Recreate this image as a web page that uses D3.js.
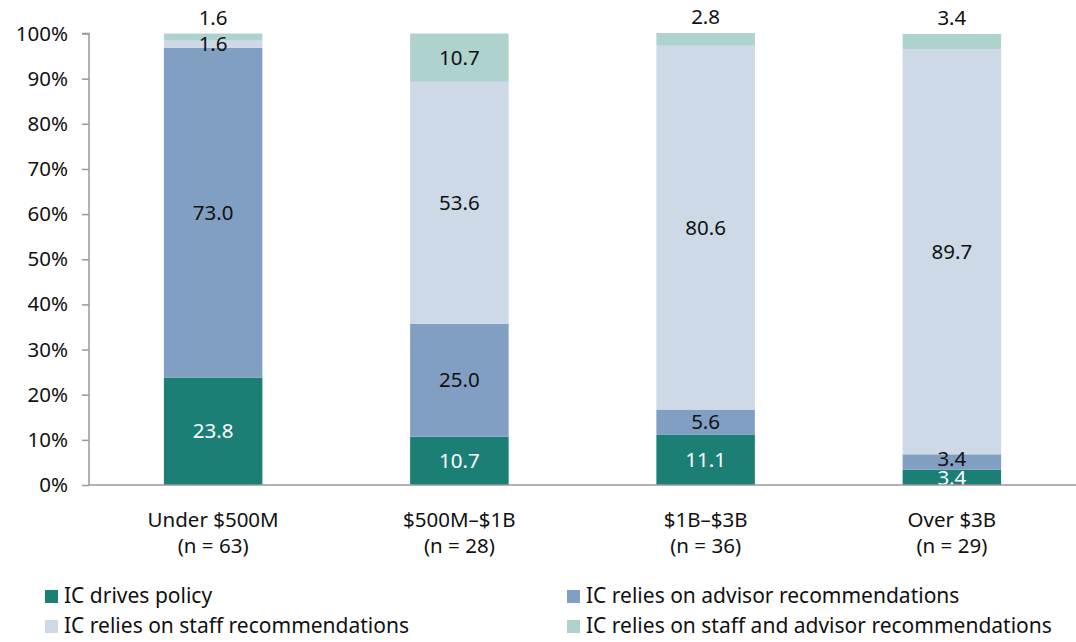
<!DOCTYPE html>
<html><head><meta charset="utf-8">
<script src="https://cdn.jsdelivr.net/npm/d3@7"></script>
<style>body{margin:0;background:#fff}svg{display:block}text{font-family:"Noto Sans",sans-serif;}</style>
</head><body><svg id="c" width="1076" height="642"></svg>
<script>
const categories = ["Under $500M", "$500M–$1B", "$1B–$3B", "Over $3B"];
const nLabels = ["(n = 63)", "(n = 28)", "(n = 36)", "(n = 29)"];
const seriesNames = ["IC drives policy", "IC relies on advisor recommendations", "IC relies on staff recommendations", "IC relies on staff and advisor recommendations"];
const drives = [23.8, 10.7, 11.1, 3.4];
const advisor = [73.0, 25.0, 5.6, 3.4];
const staff = [1.6, 53.6, 80.6, 89.7];
const staffAdvisor = [1.6, 10.7, 2.8, 3.4];
const yTicks = [0, 10, 20, 30, 40, 50, 60, 70, 80, 90, 100];
const colors = ["#1b7f76", "#819fc3", "#cdd9e6", "#aed2cd"];
const labelColors = ["#fff", "#111", "#111", "#111"];
const FS = 20.5;

const seriesVals = [drives, advisor, staff, staffAdvisor];
const svg = d3.select("#c");
const x = d3.scaleBand().domain(categories).range([90, 1075]).paddingInner(0.6).paddingOuter(0.3);
const y = d3.scaleLinear().domain([0, 100]).range([485, 33.5]);

// y axis
const yAxis = svg.append("g").attr("transform", "translate(89,0)")
  .call(d3.axisLeft(y).tickValues(yTicks).tickFormat(d => d + "%").tickSize(7).tickPadding(14));
yAxis.select(".domain").attr("stroke", "#999").attr("stroke-width", 1.5).attr("d", "M-7," + y(100) + "H0V" + y(0));
yAxis.selectAll(".tick line").attr("stroke", "#999").attr("stroke-width", 1.5);
yAxis.selectAll(".tick text").attr("font-size", FS).attr("fill", "#111").attr("font-family", '"Noto Sans",sans-serif');

// stacked data
const rows = categories.map((c, i) => {
  const o = {cat: c};
  seriesNames.forEach((s, j) => o[s] = seriesVals[j][i]);
  return o;
});
const stack = d3.stack().keys(seriesNames)(rows);

const g = svg.append("g");
stack.forEach((layer, j) => {
  g.selectAll(null).data(layer).enter().append("rect")
    .attr("x", d => x(d.data.cat))
    .attr("width", x.bandwidth())
    .attr("y", d => y(d[1]))
    .attr("height", d => y(d[0]) - y(d[1]))
    .attr("fill", colors[j]);
});

// x baseline
svg.append("line").attr("x1", 89).attr("x2", 1076).attr("y1", y(0)).attr("y2", y(0)).attr("stroke", "#999").attr("stroke-width", 1.5);

// labels
stack.forEach((layer, j) => {
  g.selectAll(null).data(layer).enter().append("text")
    .attr("x", d => x(d.data.cat) + x.bandwidth() / 2)
    .attr("y", d => {
      const v = d[1] - d[0];
      if (j === 3 && v < 5) return y(d[1]) - 9;
      if (v < 5 && j === 1) return y((d[0] + d[1]) / 2) + 4;
      if (v < 5 && j === 0) return y((d[0] + d[1]) / 2) + 8;
      return y((d[0] + d[1]) / 2) + 7;
    })
    .attr("text-anchor", "middle")
    .attr("font-size", FS)
    .attr("fill", d => (j === 3 && d[1] - d[0] < 5) ? "#111" : labelColors[j])
    .text(d => (d[1] - d[0]).toFixed(1));
});

// x labels
categories.forEach((c, i) => {
  const cx = x(c) + x.bandwidth() / 2;
  svg.append("text").attr("x", cx).attr("y", 527).attr("text-anchor", "middle").attr("font-size", FS).attr("fill", "#111").text(c);
  svg.append("text").attr("x", cx).attr("y", 553).attr("text-anchor", "middle").attr("font-size", FS).attr("fill", "#111").text(nLabels[i]);
});

// legend
const legPos = [[45, 590], [567, 590], [45, 620], [567, 620]];
seriesNames.forEach((s, j) => {
  const [lx, ly] = legPos[j];
  svg.append("rect").attr("x", lx).attr("y", ly).attr("width", 13).attr("height", 13).attr("fill", colors[j]);
  svg.append("text").attr("x", lx + 19).attr("y", ly + 13).attr("font-size", 21).attr("fill", "#111").text(s);
});
</script></body></html>
